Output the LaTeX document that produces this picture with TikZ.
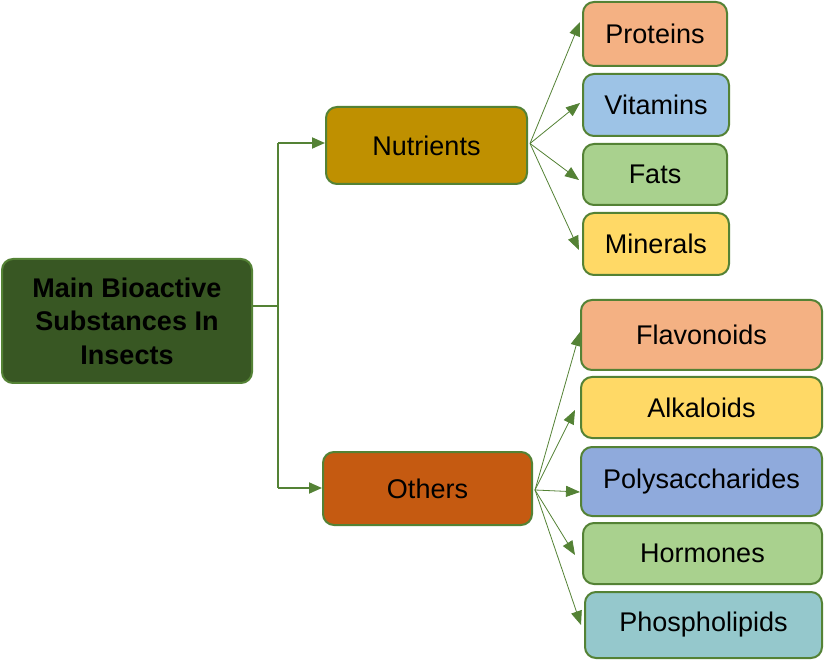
\documentclass[tikz,border=0pt]{standalone}
\usepackage{fontspec}
\setmainfont{Liberation Sans}
\usetikzlibrary{arrows.meta,calc}
\definecolor{bordergreen}{HTML}{548235}
\definecolor{maingreen}{HTML}{385723}
\definecolor{gold}{HTML}{BF9000}
\definecolor{rust}{HTML}{C55A11}
\definecolor{peach}{HTML}{F4B183}
\definecolor{skyblue}{HTML}{9DC3E6}
\definecolor{lightgreen}{HTML}{A9D18E}
\definecolor{lightyellow}{HTML}{FFD966}
\definecolor{periwinkle}{HTML}{8FAADC}
\definecolor{teal}{HTML}{95C8CC}
\tikzset{
  box/.style={draw=bordergreen, line width=2pt, rounded corners=11pt, align=center,
    inner sep=0pt, font=\fontsize{27}{33.5}\selectfont, text=black},
  trunk/.style={draw=bordergreen, line width=1.8pt},
  fan/.style={draw=bordergreen, line width=0.8pt, -{Triangle[length=14pt,width=11pt]}},
  bigarrow/.style={draw=bordergreen, line width=1.8pt, -{Triangle[length=13pt,width=11pt]}}
}
\begin{document}
\begin{tikzpicture}[x=1pt,y=-1pt]
\useasboundingbox[fill=white] (0,0) rectangle (825,660);
% main and level 1
\node[box, fill=maingreen, minimum width=250pt, minimum height=124pt, font=\fontsize{27}{33.5}\selectfont\bfseries] (main) at (127,321) {Main Bioactive\\Substances In\\Insects};
\node[box, fill=gold, minimum width=201pt, minimum height=77pt] (nut) at (426.5,145.5) {Nutrients};
\node[box, fill=rust, minimum width=209pt, minimum height=73pt] (oth) at (427.5,488.5) {Others};
% level 2 nutrients
\node[box, fill=peach, minimum width=144pt, minimum height=64pt] (pro) at (655,34) {Proteins};
\node[box, fill=skyblue, minimum width=146pt, minimum height=62pt] (vit) at (656,105) {Vitamins};
\node[box, fill=lightgreen, minimum width=144pt, minimum height=61pt] (fat) at (655,174.5) {Fats};
\node[box, fill=lightyellow, minimum width=146pt, minimum height=62pt] (mine) at (656,244) {Minerals};
% level 2 others
\node[box, fill=peach, minimum width=241pt, minimum height=70pt] (fla) at (701.5,335) {Flavonoids};
\node[box, fill=lightyellow, minimum width=241pt, minimum height=61pt] (alk) at (701.5,407.5) {Alkaloids};
\node[box, fill=periwinkle, minimum width=241pt, minimum height=69pt] (pol) at (701.5,481.5) {Polysaccharides};
\node[box, fill=lightgreen, minimum width=239pt, minimum height=61pt] (hor) at (702.5,553.5) {Hormones};
\node[box, fill=teal, minimum width=237pt, minimum height=66pt] (pho) at (703.5,625) {Phospholipids};
% trunk
\coordinate (j) at (278,306);
\coordinate (jt) at (278,143);
\coordinate (jb) at (278,488);
\draw[trunk] (main.east |- j) -- (j);
\draw[trunk] (jt) -- (jb);
\draw[bigarrow] (jt) -- (nut.west |- jt);
\draw[bigarrow] (jb) -- (oth.west |- jb);
% nutrients fan
\coordinate (no) at ([xshift=2pt,yshift=2pt]nut.east);
\draw[fan] (no) -- ([xshift=-2pt,yshift=12pt]pro.west);
\draw[fan] (no) -- ([xshift=-2pt,yshift=2pt]vit.west);
\draw[fan] (no) -- ([xshift=-3pt,yshift=-5.5pt]fat.west);
\draw[fan] (no) -- ([xshift=-3pt,yshift=-6pt]mine.west);
% others fan
\coordinate (oo) at ([xshift=2pt,yshift=-1.5pt]oth.east);
\draw[fan] (oo) -- ([xshift=0pt,yshift=3pt]fla.west);
\draw[fan] (oo) -- ([xshift=-5pt,yshift=-2.5pt]alk.west);
\draw[fan] (oo) -- ([xshift=0pt,yshift=-10.5pt]pol.west);
\draw[fan] (oo) -- ([xshift=-7pt,yshift=-1.5pt]hor.west);
\draw[fan] (oo) -- ([xshift=-3pt,yshift=0pt]pho.west);
\end{tikzpicture}
\end{document}
